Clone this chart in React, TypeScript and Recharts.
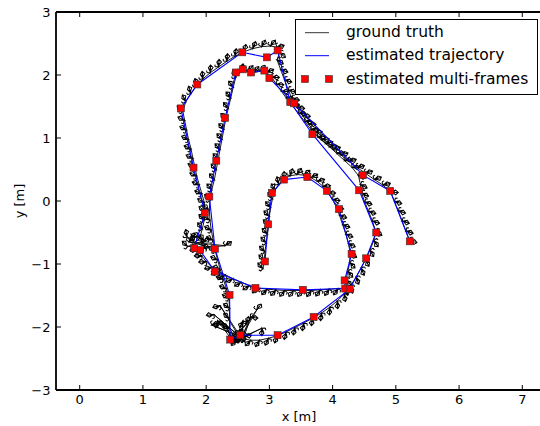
import React from "react";
import { ScatterChart, Scatter, XAxis, YAxis } from "recharts";

type Pt = [number, number];

// estimated multi-frames, in order of travel (blue line goes through them)
const estimated: Pt[] = [
  [2.93, -0.96], [2.98, -0.37], [3.04, 0.13], [3.23, 0.34], [3.60, 0.38], [3.91, 0.16],
  [4.10, -0.13], [4.30, -0.84], [4.19, -1.26], [4.20, -1.39], [3.53, -1.41], [2.78, -1.38],
  [2.14, -1.12], [1.90, -0.78], [1.81, -0.75], [1.98, -0.19], [1.80, 0.53], [1.60, 1.47],
  [1.86, 1.85], [2.57, 2.36], [2.96, 2.28], [3.13, 2.39], [3.33, 1.57], [3.68, 1.06],
  [4.42, 0.17], [4.69, -0.50], [4.53, -0.91], [4.27, -1.40], [3.70, -1.84], [3.13, -2.13],
  [2.54, -2.13], [2.38, -2.20], [2.37, -1.49], [2.14, -0.76], [2.05, 0.07], [2.16, 0.64],
  [2.30, 1.32], [2.47, 2.04], [2.58, 2.09], [2.71, 2.04], [2.92, 2.07], [3.00, 1.95],
  [3.39, 1.55], [4.48, 0.41], [4.91, 0.16], [5.22, -0.64],
];

// ground truth poses, split by stretch of the route
const gtArchInner: Pt[] = [
  [2.90, -1.07], [2.92, -0.94], [2.93, -0.80], [2.95, -0.66], [2.97, -0.52], [2.99, -0.38],
  [3.00, -0.24], [3.02, -0.10], [3.05, 0.04], [3.09, 0.17], [3.15, 0.27], [3.23, 0.35],
  [3.33, 0.40], [3.44, 0.42], [3.55, 0.41], [3.66, 0.37], [3.76, 0.31], [3.85, 0.23],
  [3.93, 0.13], [4.00, 0.02], [4.06, -0.10], [4.11, -0.23], [4.16, -0.38], [4.21, -0.53],
  [4.25, -0.68], [4.28, -0.83], [4.27, -0.98], [4.24, -1.12], [4.21, -1.26], [4.22, -1.38],
];
const gtBottomInner: Pt[] = [
  [4.08, -1.39], [3.94, -1.40], [3.80, -1.41], [3.66, -1.42], [3.52, -1.42], [3.38, -1.42],
  [3.24, -1.42], [3.10, -1.41], [2.96, -1.40], [2.82, -1.38], [2.68, -1.34], [2.55, -1.29],
  [2.42, -1.23], [2.30, -1.17], [2.19, -1.12], [2.09, -1.05], [2.00, -0.96], [1.93, -0.87],
  [1.86, -0.78],
];
const gtSpikesLeft: Pt[] = [
  [1.70, -0.57], [1.93, -0.70], [1.73, -0.65], [2.30, -0.71], [1.96, -0.74], [1.71, -0.72],
  [1.97, -0.63], [1.76, -0.53], [1.95, -0.66],
];
const gtLeftUp: Pt[] = [
  [1.90, -0.58], [1.94, -0.44], [1.97, -0.30], [1.98, -0.16], [1.97, -0.02], [1.93, 0.12],
  [1.89, 0.26], [1.85, 0.40], [1.82, 0.54], [1.79, 0.68], [1.76, 0.83], [1.72, 0.98],
  [1.69, 1.13], [1.66, 1.28], [1.63, 1.43],
];
const gtTopOuter: Pt[] = [
  [1.68, 1.58], [1.76, 1.71], [1.85, 1.83], [1.95, 1.94], [2.07, 2.04], [2.20, 2.13],
  [2.33, 2.22], [2.46, 2.30], [2.60, 2.37], [2.74, 2.42], [2.88, 2.45], [3.02, 2.46],
  [3.12, 2.44], [3.16, 2.35], [3.12, 2.24],
];
const gtDiagOuter: Pt[] = [
  [3.18, 2.08], [3.24, 1.92], [3.30, 1.76], [3.36, 1.62], [3.44, 1.48], [3.53, 1.35],
  [3.62, 1.22], [3.72, 1.09], [3.83, 0.97], [3.95, 0.86], [4.07, 0.75], [4.19, 0.64],
  [4.31, 0.53], [4.41, 0.40], [4.44, 0.26], [4.46, 0.12], [4.51, -0.02], [4.57, -0.17],
  [4.63, -0.32], [4.68, -0.48], [4.65, -0.63], [4.59, -0.78], [4.52, -0.93], [4.45, -1.07],
  [4.37, -1.21], [4.28, -1.35],
];
const gtBottomOuter: Pt[] = [
  [4.18, -1.48], [4.07, -1.59], [3.95, -1.69], [3.82, -1.78], [3.68, -1.86], [3.54, -1.94],
  [3.40, -2.01], [3.26, -2.08], [3.12, -2.14], [2.98, -2.18], [2.84, -2.21], [2.70, -2.21],
  [2.56, -2.18],
];
const gtSpikesBottom: Pt[] = [
  [2.12, -1.80], [2.52, -2.14], [2.09, -1.97], [2.55, -2.16], [2.22, -1.66], [2.50, -2.12],
  [2.80, -1.73], [2.58, -2.12], [2.70, -1.85], [2.60, -2.15], [2.88, -2.02], [2.56, -2.18],
  [2.58, -1.90], [2.47, -2.20], [2.18, -1.90], [2.42, -2.22], [2.30, -1.95], [2.40, -2.18],
  [2.64, -1.95], [2.45, -2.16],
];
const gtRightUp: Pt[] = [
  [2.37, -2.02], [2.37, -1.86], [2.37, -1.70], [2.36, -1.54], [2.32, -1.39], [2.27, -1.24],
  [2.22, -1.08], [2.18, -0.93], [2.14, -0.78], [2.11, -0.62], [2.08, -0.46], [2.06, -0.30],
  [2.05, -0.14], [2.06, 0.02], [2.09, 0.18], [2.13, 0.34], [2.16, 0.50], [2.19, 0.66],
  [2.22, 0.82], [2.25, 0.98], [2.28, 1.14], [2.31, 1.30], [2.35, 1.47], [2.39, 1.64],
  [2.43, 1.81], [2.47, 1.97],
];
const gtTopInner: Pt[] = [
  [2.56, 2.06], [2.66, 2.06], [2.76, 2.04], [2.86, 2.06], [2.96, 2.04], [3.04, 1.96],
];
const gtDiagInner: Pt[] = [
  [3.11, 1.85], [3.19, 1.74], [3.27, 1.63], [3.36, 1.52], [3.46, 1.39], [3.56, 1.26],
  [3.66, 1.13], [3.77, 1.01], [3.89, 0.91], [4.01, 0.82], [4.13, 0.73], [4.26, 0.63],
  [4.39, 0.53], [4.52, 0.44], [4.66, 0.34], [4.80, 0.25], [4.92, 0.14], [4.98, -0.01],
  [5.04, -0.16], [5.10, -0.32], [5.16, -0.48], [5.22, -0.63],
];

const xTicks = [0, 1, 2, 3, 4, 5, 6, 7];
const yTicks = [-3, -2, -1, 0, 1, 2, 3];
const legendLabels = ["ground truth", "estimated trajectory", "estimated multi-frames"];

const groundTruth: Pt[] = [
  ...gtArchInner, ...gtBottomInner, ...gtSpikesLeft, ...gtLeftUp, ...gtTopOuter,
  ...gtDiagOuter, ...gtBottomOuter, ...gtSpikesBottom, ...gtRightUp, ...gtTopInner,
  ...gtDiagInner,
];
const gtData = groundTruth.map(([x, y], i) => ({ x, y, i }));
const estData = estimated.map(([x, y]) => ({ x, y }));

const FONT = "'DejaVu Sans', sans-serif";
const fmt = (v: number) => (v < 0 ? `\u2212${-v}` : `${v}`);

function heading(i: number) {
  const a = groundTruth[Math.max(0, i - 1)];
  const b = groundTruth[Math.min(groundTruth.length - 1, i + 1)];
  return (Math.atan2(-(b[1] - a[1]), b[0] - a[0]) * 180) / Math.PI;
}

// little camera frustum drawn at each ground truth pose
const Frustum = (props: any) => {
  const { cx, cy, payload } = props;
  if (cx == null || cy == null) return <g />;
  const deg = heading(payload.i);
  return (
    <g transform={`translate(${cx},${cy}) rotate(${deg})`}>
      <path
        d="M0 0 L1 -5 L4.5 -6 L5 -2.5 L1.5 -1.5 Z M1 -5 L1.5 -1.5 M4.5 -6 L0 0 M0 0 L-3 -2 M-3 -2 L-2 -4"
        fill="none"
        stroke="#000"
        strokeWidth={1}
      />
    </g>
  );
};

const Square = (props: any) => {
  const { cx, cy } = props;
  if (cx == null || cy == null) return <g />;
  return <rect x={cx - 3.5} y={cy - 3.5} width={7} height={7} fill="#ff0000" stroke="#333" strokeWidth={0.6} />;
};

const NoTick = () => <g />;

export default function App() {
  const rows = [32.7, 55.7, 79];
  return (
    <div style={{ position: "absolute", left: 0, top: 0, width: 540, height: 426, background: "#fff", fontFamily: FONT }}>
      <ScatterChart width={540} height={426} margin={{ top: 11, right: 0, bottom: 0, left: 0 }}>
        <XAxis
          type="number"
          dataKey="x"
          domain={[-0.375, 7.28]}
          allowDataOverflow
          ticks={xTicks}
          tickFormatter={fmt}
          height={36}
          tickSize={-5}
          tickMargin={10}
          axisLine={{ stroke: "#000", strokeWidth: 1.8 }}
          tickLine={{ stroke: "#000" }}
          tick={{ fontSize: 13, fill: "#000", fontFamily: FONT }}
        />
        <XAxis
          xAxisId="top"
          orientation="top"
          type="number"
          dataKey="x"
          domain={[-0.375, 7.28]}
          allowDataOverflow
          ticks={xTicks}
          height={1}
          tickSize={-5}
          axisLine={{ stroke: "#000", strokeWidth: 1.8 }}
          tickLine={{ stroke: "#000" }}
          tick={NoTick}
        />
        <YAxis
          type="number"
          dataKey="y"
          domain={[-3, 3]}
          allowDataOverflow
          ticks={yTicks}
          tickFormatter={fmt}
          width={56}
          tickSize={-5}
          tickMargin={10.5}
          axisLine={{ stroke: "#000", strokeWidth: 1.8 }}
          tickLine={{ stroke: "#000" }}
          tick={{ fontSize: 13, fill: "#000", fontFamily: FONT }}
        />
        <Scatter
          data={gtData}
          fill="#000"
          line={{ stroke: "#000", strokeWidth: 0.9 }}
          shape={Frustum}
          isAnimationActive={false}
        />
        <Scatter
          data={estData}
          fill="#ff0000"
          line={{ stroke: "#0000ff", strokeWidth: 1.1 }}
          shape={Square}
          isAnimationActive={false}
        />
      </ScatterChart>
      <svg width={540} height={426} style={{ position: "absolute", left: 0, top: 0, pointerEvents: "none" }}>
        <rect x={295.5} y={19.5} width={242} height={75} fill="#fff" stroke="#000" strokeWidth={1} />
        <line x1={305} x2={329} y1={rows[0]} y2={rows[0]} stroke="#000" strokeWidth={0.8} />
        <line x1={305} x2={329} y1={rows[1]} y2={rows[1]} stroke="#0000ff" strokeWidth={1} />
        <rect x={301.5} y={rows[2] - 3.5} width={7} height={7} fill="#ff0000" stroke="#333" strokeWidth={0.6} />
        <rect x={325.5} y={rows[2] - 3.5} width={7} height={7} fill="#ff0000" stroke="#333" strokeWidth={0.6} />
        {legendLabels.map((t, k) => (
          <text key={t} x={346} y={rows[k] + 4.5} fontSize={15.5} fontFamily={FONT} fill="#000">
            {t}
          </text>
        ))}
        <text x={299} y={421} fontSize={13} fontFamily={FONT} fill="#000" textAnchor="middle">
          x [m]
        </text>
        <text transform="translate(24,201) rotate(-90)" fontSize={13} fontFamily={FONT} fill="#000" textAnchor="middle">
          y [m]
        </text>
      </svg>
    </div>
  );
}
